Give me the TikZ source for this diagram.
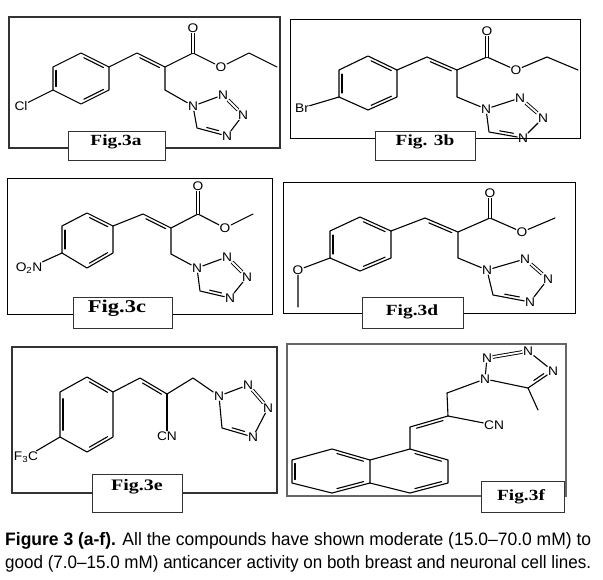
\documentclass[tikz,border=0pt]{standalone}
\usepackage{fontspec}
\usepackage{graphicx}
\setmainfont{Liberation Serif}
\newfontfamily\atomfont[FakeStretch=1.1]{Liberation Sans}
\newfontfamily\figfont[FakeStretch=1.25]{Liberation Serif}
\newfontfamily\capfont{Liberation Sans}
\usetikzlibrary{calc}
\tikzset{
  bond/.style={line width=1.1pt, line cap=round, line join=round},
  dbond/.style={double, double distance=1.8pt, line width=0.9pt},
  atom/.style={font=\atomfont\fontsize{12.5}{13}\selectfont, inner sep=0.6pt},
  panel/.style={draw=black!80, line width=1pt},
  figbox/.style={draw=black!80, fill=white, line width=0.9pt},
  figtext/.style={font=\figfont\bfseries\fontsize{15.5}{16}\selectfont, inner sep=0pt}
}
\newcommand\innerbond[4][0.15]{%
  \draw[bond] ($(#2)!#1!(#3)!#4!90:(#3)$) -- ($(#3)!#1!(#2)!#4!-90:(#2)$);}

\begin{document}
\begin{tikzpicture}[x=1pt, y=-1pt]
\useasboundingbox (0,0) rectangle (603,579);

% Fig.3a
\draw[panel, line width=1.2pt] (9,17) rectangle (280,148);
\coordinate (ar1) at (81,53);  \coordinate (ar2) at (109,67);
\coordinate (ar3) at (109,90); \coordinate (ar4) at (81,104);
\coordinate (ar5) at (53,90);  \coordinate (ar6) at (53,67);
\coordinate (avin) at (137,53); \coordinate (aalp) at (165,67);
\coordinate (aco) at (193,53);  \coordinate (aet1) at (249,53);
\coordinate (aet2) at (277,67); \coordinate (ach2) at (165,90);
\coordinate (ac5) at (197,128);
\node[atom] (ao) at (193,28) {O};
\node[atom] (aoe) at (221,67) {O};
\node[atom] (acl) at (21,106) {Cl};
\node[atom] (an1) at (193,106) {N};
\node[atom] (an2) at (223,95) {N};
\node[atom] (an3) at (243,115) {N};
\node[atom] (an4) at (227,136) {N};
\draw[bond] (ar1) -- (ar2) -- (ar3) -- (ar4) -- (ar5) -- (ar6) -- cycle;
\innerbond{ar1}{ar2}{-3pt} \innerbond{ar3}{ar4}{-3pt} \innerbond{ar5}{ar6}{-3pt}
\draw[bond] (ar5) -- (acl);
\draw[bond] (ar2) -- (avin) -- (aalp) -- (aco) -- (aoe) -- (aet1) -- (aet2);
\innerbond{avin}{aalp}{-3pt}
\draw[dbond] (aco) -- (ao);
\draw[bond] (aalp) -- (ach2) -- (an1) -- (an2);
\draw[dbond] (an2) -- (an3);
\draw[bond] (an3) -- (an4) -- (ac5) -- (an1);
\innerbond[0.3]{ac5}{an4}{3pt}
\draw[figbox] (68,131) rectangle (165,160);
\node[figtext] (figa) at (116,142) {Fig.3a};

% Fig.3b
\draw[panel, draw=black, line width=0.9pt] (290,19) rectangle (580,138);
\coordinate (br1) at (368,56);  \coordinate (br2) at (397,70);
\coordinate (br3) at (397,97);  \coordinate (br4) at (368,110);
\coordinate (br5) at (339,97);  \coordinate (br6) at (339,70);
\coordinate (bvin) at (427,57); \coordinate (balp) at (457,70);
\coordinate (bco) at (487,57);  \coordinate (bet1) at (547,57);
\coordinate (bet2) at (578,70); \coordinate (bch2) at (457,97);
\coordinate (bc5) at (489,132);
\node[atom] (bo) at (487,31) {O};
\node[atom] (boe) at (516,70) {O};
\node[atom] (bbr) at (302,108) {Br};
\node[atom] (bn1) at (486,109) {N};
\node[atom] (bn2) at (520,98) {N};
\node[atom] (bn3) at (543,118) {N};
\node[atom] (bn4) at (523,138) {N};
\draw[bond] (br1) -- (br2) -- (br3) -- (br4) -- (br5) -- (br6) -- cycle;
\innerbond{br1}{br2}{-3pt} \innerbond{br3}{br4}{-3pt} \innerbond{br5}{br6}{-3pt}
\draw[bond] (br5) -- (bbr);
\draw[bond] (br2) -- (bvin) -- (balp) -- (bco) -- (boe) -- (bet1) -- (bet2);
\innerbond{bvin}{balp}{-3pt}
\draw[dbond] (bco) -- (bo);
\draw[bond] (balp) -- (bch2) -- (bn1) -- (bn2);
\draw[dbond] (bn2) -- (bn3);
\draw[bond] (bn3) -- (bn4) -- (bc5) -- (bn1);
\innerbond[0.3]{bc5}{bn4}{3pt}
\draw[figbox] (375,131) rectangle (475,160);
\node[figtext] (figb) at (425,142) {Fig. 3b};

% Fig.3c
\draw[panel, draw=black, line width=0.9pt] (7,178) rectangle (272,314);
\coordinate (cr1) at (87,213);  \coordinate (cr2) at (113,226);
\coordinate (cr3) at (113,253); \coordinate (cr4) at (87,268);
\coordinate (cr5) at (62,253);  \coordinate (cr6) at (62,226);
\coordinate (cvin) at (143,214); \coordinate (calp) at (171,228);
\coordinate (cco) at (198,214);  \coordinate (cme) at (253,214);
\coordinate (cch2) at (171,254); \coordinate (cc5) at (200,291);
\node[atom] (co) at (198,186) {O};
\node[atom] (coe) at (225,228) {O};
\node[atom] (cno) at (29,268) {O\textsubscript{2}N};
\node[atom] (cn1) at (197,268) {N};
\node[atom] (cn2) at (227,257) {N};
\node[atom] (cn3) at (247,277) {N};
\node[atom] (cn4) at (230,298) {N};
\draw[bond] (cr1) -- (cr2) -- (cr3) -- (cr4) -- (cr5) -- (cr6) -- cycle;
\innerbond{cr1}{cr2}{-3pt} \innerbond{cr3}{cr4}{-3pt} \innerbond{cr5}{cr6}{-3pt}
\draw[bond] (cr5) -- (cno);
\draw[bond] (cr2) -- (cvin) -- (calp) -- (cco) -- (coe) -- (cme);
\innerbond{cvin}{calp}{-3pt}
\draw[dbond] (cco) -- (co);
\draw[bond] (calp) -- (cch2) -- (cn1) -- (cn2);
\draw[dbond] (cn2) -- (cn3);
\draw[bond] (cn3) -- (cn4) -- (cc5) -- (cn1);
\innerbond[0.3]{cc5}{cn4}{3pt}
\draw[figbox] (73,297) rectangle (172,328);
\node[figtext, font=\figfont\bfseries\fontsize{18}{18}\selectfont] (figc) at (117,308) {Fig.3c};

% Fig.3d
\draw[panel, draw=black, line width=0.9pt] (283,182) rectangle (575,313);
\coordinate (dr1) at (360,217); \coordinate (dr2) at (391,231);
\coordinate (dr3) at (391,258); \coordinate (dr4) at (360,271);
\coordinate (dr5) at (330,258); \coordinate (dr6) at (330,231);
\coordinate (dvin) at (425,218); \coordinate (dalp) at (458,232);
\coordinate (dco) at (490,218);  \coordinate (dme) at (555,218);
\coordinate (dch2) at (458,258); \coordinate (dc5) at (493,295);
\coordinate (dme2) at (298,307);
\node[atom] (do) at (490,193) {O};
\node[atom] (doe) at (522,232) {O};
\node[atom] (dom) at (298,270) {O};
\node[atom] (dn1) at (487,270) {N};
\node[atom] (dn2) at (525,259) {N};
\node[atom] (dn3) at (548,279) {N};
\node[atom] (dn4) at (530,302) {N};
\draw[bond] (dr1) -- (dr2) -- (dr3) -- (dr4) -- (dr5) -- (dr6) -- cycle;
\innerbond{dr1}{dr2}{-3pt} \innerbond{dr3}{dr4}{-3pt} \innerbond{dr5}{dr6}{-3pt}
\draw[bond] (dr5) -- (dom) -- (dme2);
\draw[bond] (dr2) -- (dvin) -- (dalp) -- (dco) -- (doe) -- (dme);
\innerbond{dvin}{dalp}{-3pt}
\draw[dbond] (dco) -- (do);
\draw[bond] (dalp) -- (dch2) -- (dn1) -- (dn2);
\draw[dbond] (dn2) -- (dn3);
\draw[bond] (dn3) -- (dn4) -- (dc5) -- (dn1);
\innerbond[0.3]{dc5}{dn4}{3pt}
\draw[figbox] (362,297) rectangle (463,328);
\node[figtext] (figd) at (412,312) {Fig.3d};

% Fig.3e
\draw[panel, line width=1.8pt] (12,347) rectangle (277,493);
\coordinate (er1) at (87,377);  \coordinate (er2) at (113,392);
\coordinate (er3) at (113,437); \coordinate (er4) at (87,452);
\coordinate (er5) at (60,437);  \coordinate (er6) at (60,392);
\coordinate (evin) at (140,378); \coordinate (ealp) at (167,394);
\coordinate (ech2) at (193,378); \coordinate (ec5) at (222,428);
\node[atom] (ecn) at (167,436) {CN};
\node[atom] (ecf) at (26,457) {F\textsubscript{3}C};
\node[atom] (en1) at (219,396) {N};
\node[atom] (en2) at (248,385) {N};
\node[atom] (en3) at (268,408) {N};
\node[atom] (en4) at (253,437) {N};
\draw[bond] (er1) -- (er2) -- (er3) -- (er4) -- (er5) -- (er6) -- cycle;
\innerbond{er1}{er2}{-3pt} \innerbond{er3}{er4}{-3pt} \innerbond{er5}{er6}{-3pt}
\draw[bond] (er5) -- (ecf);
\draw[bond] (er2) -- (evin) -- (ealp) -- (ech2) -- (en1) -- (en2);
\innerbond{evin}{ealp}{-3pt}
\draw[bond] (ealp) -- (ecn);
\draw[dbond] (en2) -- (en3);
\draw[bond] (en3) -- (en4) -- (ec5) -- (en1);
\innerbond[0.3]{ec5}{en4}{3pt}
\draw[figbox] (92,474) rectangle (182,512);
\node[figtext, font=\figfont\bfseries\fontsize{16}{16}\selectfont] (fige) at (137,487) {Fig.3e};

% Fig.3f
\draw[panel, draw=black!60, line width=1.4pt] (287,344) rectangle (566,496);
\coordinate (fl1) at (332,449); \coordinate (fl2) at (370,460);
\coordinate (fl3) at (370,483); \coordinate (fl4) at (332,493);
\coordinate (fl5) at (292,483); \coordinate (fl6) at (292,460);
\coordinate (fr1) at (410,449); \coordinate (fr2) at (448,460);
\coordinate (fr3) at (448,483); \coordinate (fr4) at (410,493);
\coordinate (fvin) at (410,427); \coordinate (falp) at (448,416);
\coordinate (fch2) at (447,393); \coordinate (fc5) at (528,388);
\coordinate (fme) at (538,410);
\node[atom] (fcn) at (494,425) {CN};
\node[atom] (fn1) at (485,379) {N};
\node[atom] (fn2) at (487,358) {N};
\node[atom] (fn3) at (528,351) {N};
\node[atom] (fn4) at (553,371) {N};
\draw[bond] (fl1) -- (fl2) -- (fl3) -- (fl4) -- (fl5) -- (fl6) -- cycle;
\draw[bond] (fl2) -- (fr1) -- (fr2) -- (fr3) -- (fr4) -- (fl3);
\innerbond{fl1}{fl2}{-3pt} \innerbond{fl3}{fl4}{-3pt} \innerbond{fl5}{fl6}{-3pt}
\innerbond{fr1}{fr2}{-3pt} \innerbond{fr3}{fr4}{-3pt}
\draw[bond] (fr1) -- (fvin) -- (falp) -- (fch2) -- (fn1) -- (fn2);
\innerbond{fvin}{falp}{-3pt}
\draw[bond] (falp) -- (fcn);
\draw[dbond] (fn2) -- (fn3);
\draw[bond] (fn3) -- (fn4) -- (fc5) -- (fn1);
\innerbond[0.3]{fc5}{fn4}{3pt}
\draw[bond] (fc5) -- (fme);
\draw[figbox] (481,481) rectangle (564,512);
\node[figtext] (figf) at (521,497) {Fig.3f};

% caption
\node[anchor=base west, inner sep=0pt, font=\capfont\fontsize{18}{20}\selectfont] (cap1) at (5,545)
  {\resizebox{586pt}{\height}{{\bfseries Figure 3 (a-f).} All the compounds have shown moderate (15.0–70.0 mM) to}};
\node[anchor=base west, inner sep=0pt, font=\capfont\fontsize{18}{20}\selectfont] (cap2) at (5,568)
  {\resizebox{586pt}{\height}{good (7.0–15.0 mM) anticancer activity on both breast and neuronal cell lines.}};
\end{tikzpicture}
\end{document}
